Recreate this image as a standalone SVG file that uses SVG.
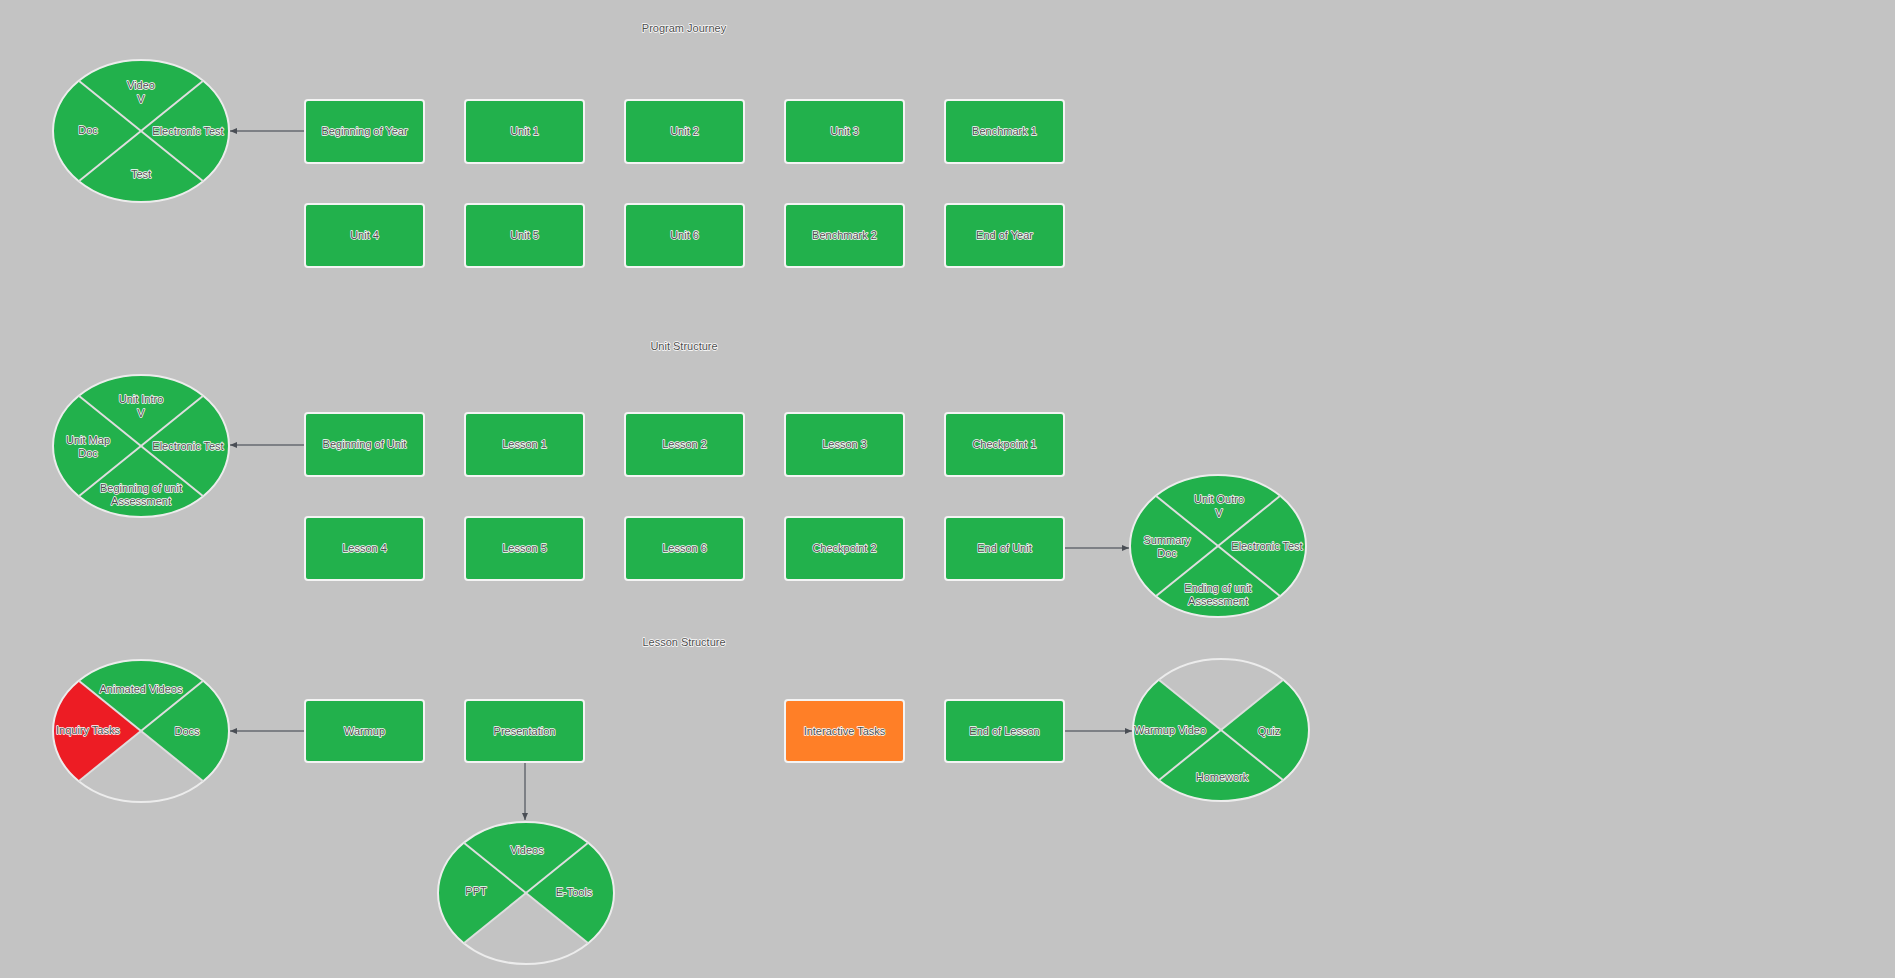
<svg xmlns="http://www.w3.org/2000/svg" width="1895" height="978" viewBox="0 0 1895 978">
<style>
.bg{fill:#c3c3c3}
.box{stroke:#f4f4f4;stroke-width:2}
.g{fill:#22b14c}
.r{fill:#ed1c24}
.o{fill:#ff7f27}
.ol{fill:none;stroke:#ececec;stroke-width:2}
.dv{stroke:#dedede;stroke-width:2}
text{font-family:"Liberation Sans",Arial,sans-serif;font-size:11px;fill:#4e4e4e;stroke:#ffffff;stroke-width:1.4;paint-order:stroke;stroke-linejoin:round;text-anchor:middle}
.cn{stroke:#666a70;stroke-width:1.5;fill:none;marker-end:url(#ah)}
</style>
<defs>
<marker id="ah" markerWidth="8" markerHeight="8" refX="7" refY="4" orient="auto" markerUnits="userSpaceOnUse">
<path d="M0,1 L7,4 L0,7 Z" fill="#4a4e55"/>
</marker>
<path id="qt" d="M0,0 L-62.2,-50.2 A88 71 0 0 1 62.2,-50.2 Z"/>
<path id="qr" d="M0,0 L62.2,-50.2 A88 71 0 0 1 62.2,50.2 Z"/>
<path id="qb" d="M0,0 L62.2,50.2 A88 71 0 0 1 -62.2,50.2 Z"/>
<path id="ql" d="M0,0 L-62.2,50.2 A88 71 0 0 1 -62.2,-50.2 Z"/>
<g id="frame">
<ellipse cx="0" cy="0" rx="88" ry="71" class="ol"/>
<line x1="-62.2" y1="-50.2" x2="62.2" y2="50.2" class="dv"/>
<line x1="-62.2" y1="50.2" x2="62.2" y2="-50.2" class="dv"/>
</g>
</defs>
<rect class="bg" x="0" y="0" width="1895" height="978"/>

<g id="titles">
<text x="684" y="32">Program Journey</text>
<text x="684" y="350">Unit Structure</text>
<text x="684" y="646">Lesson Structure</text>
</g>

<g id="connectors">
<line class="cn" x1="305" y1="131" x2="230" y2="131"/>
<line class="cn" x1="305" y1="445" x2="230" y2="445"/>
<line class="cn" x1="1064" y1="548" x2="1129" y2="548"/>
<line class="cn" x1="305" y1="731" x2="230" y2="731"/>
<line class="cn" x1="1064" y1="731" x2="1132" y2="731"/>
<line class="cn" x1="525" y1="762" x2="525" y2="820"/>
</g>

<!-- Program Journey boxes -->
<g id="n-beginning-year"><rect class="box g" x="305" y="100" width="119" height="63" rx="3"/><text x="364.5" y="135">Beginning of Year</text></g>
<g id="n-unit1"><rect class="box g" x="465" y="100" width="119" height="63" rx="3"/><text x="524.5" y="135">Unit 1</text></g>
<g id="n-unit2"><rect class="box g" x="625" y="100" width="119" height="63" rx="3"/><text x="684.5" y="135">Unit 2</text></g>
<g id="n-unit3"><rect class="box g" x="785" y="100" width="119" height="63" rx="3"/><text x="844.5" y="135">Unit 3</text></g>
<g id="n-bench1"><rect class="box g" x="945" y="100" width="119" height="63" rx="3"/><text x="1004.5" y="135">Benchmark 1</text></g>
<g id="n-unit4"><rect class="box g" x="305" y="204" width="119" height="63" rx="3"/><text x="364.5" y="239">Unit 4</text></g>
<g id="n-unit5"><rect class="box g" x="465" y="204" width="119" height="63" rx="3"/><text x="524.5" y="239">Unit 5</text></g>
<g id="n-unit6"><rect class="box g" x="625" y="204" width="119" height="63" rx="3"/><text x="684.5" y="239">Unit 6</text></g>
<g id="n-bench2"><rect class="box g" x="785" y="204" width="119" height="63" rx="3"/><text x="844.5" y="239">Benchmark 2</text></g>
<g id="n-end-year"><rect class="box g" x="945" y="204" width="119" height="63" rx="3"/><text x="1004.5" y="239">End of Year</text></g>

<!-- Unit Structure boxes -->
<g id="n-beginning-unit"><rect class="box g" x="305" y="413" width="119" height="63" rx="3"/><text x="364.5" y="448">Beginning of Unit</text></g>
<g id="n-lesson1"><rect class="box g" x="465" y="413" width="119" height="63" rx="3"/><text x="524.5" y="448">Lesson 1</text></g>
<g id="n-lesson2"><rect class="box g" x="625" y="413" width="119" height="63" rx="3"/><text x="684.5" y="448">Lesson 2</text></g>
<g id="n-lesson3"><rect class="box g" x="785" y="413" width="119" height="63" rx="3"/><text x="844.5" y="448">Lesson 3</text></g>
<g id="n-check1"><rect class="box g" x="945" y="413" width="119" height="63" rx="3"/><text x="1004.5" y="448">Checkpoint 1</text></g>
<g id="n-lesson4"><rect class="box g" x="305" y="517" width="119" height="63" rx="3"/><text x="364.5" y="552">Lesson 4</text></g>
<g id="n-lesson5"><rect class="box g" x="465" y="517" width="119" height="63" rx="3"/><text x="524.5" y="552">Lesson 5</text></g>
<g id="n-lesson6"><rect class="box g" x="625" y="517" width="119" height="63" rx="3"/><text x="684.5" y="552">Lesson 6</text></g>
<g id="n-check2"><rect class="box g" x="785" y="517" width="119" height="63" rx="3"/><text x="844.5" y="552">Checkpoint 2</text></g>
<g id="n-end-unit"><rect class="box g" x="945" y="517" width="119" height="63" rx="3"/><text x="1004.5" y="552">End of Unit</text></g>

<!-- Lesson Structure boxes -->
<g id="n-warmup"><rect class="box g" x="305" y="700" width="119" height="62" rx="3"/><text x="364.5" y="735">Warmup</text></g>
<g id="n-presentation"><rect class="box g" x="465" y="700" width="119" height="62" rx="3"/><text x="524.5" y="735">Presentation</text></g>
<g id="n-interactive"><rect class="box o" x="785" y="700" width="119" height="62" rx="3"/><text x="844.5" y="735">Interactive Tasks</text></g>
<g id="n-end-lesson"><rect class="box g" x="945" y="700" width="119" height="62" rx="3"/><text x="1004.5" y="735">End of Lesson</text></g>

<!-- Ellipses -->
<g id="e-year" transform="translate(141,131)">
<use href="#qt" class="g"/><use href="#qr" class="g"/><use href="#qb" class="g"/><use href="#ql" class="g"/>
<use href="#frame"/>
<text x="0" y="-42">Video</text><text x="0" y="-28">V</text>
<text x="-53" y="3">Doc</text>
<text x="47" y="4">Electronic Test</text>
<text x="0" y="47">Test</text>
</g>

<g id="e-unit-begin" transform="translate(141,446)">
<use href="#qt" class="g"/><use href="#qr" class="g"/><use href="#qb" class="g"/><use href="#ql" class="g"/>
<use href="#frame"/>
<text x="0" y="-43">Unit Intro</text><text x="0" y="-29">V</text>
<text x="-53" y="-2">Unit Map</text><text x="-53" y="11">Doc</text>
<text x="47" y="4">Electronic Test</text>
<text x="0" y="46">Beginning of unit</text><text x="0" y="59">Assessment</text>
</g>

<g id="e-unit-end" transform="translate(1218,546)">
<use href="#qt" class="g"/><use href="#qr" class="g"/><use href="#qb" class="g"/><use href="#ql" class="g"/>
<use href="#frame"/>
<text x="1" y="-43">Unit Outro</text><text x="1" y="-29">V</text>
<text x="-51" y="-2">Summary</text><text x="-51" y="11">Doc</text>
<text x="49" y="4">Electronic Test</text>
<text x="0" y="46">Ending of unit</text><text x="0" y="59">Assessment</text>
</g>

<g id="e-warmup" transform="translate(141,731)">
<use href="#qt" class="g"/><use href="#qr" class="g"/><use href="#ql" class="r"/>
<use href="#frame"/>
<text x="0" y="-38">Animated Videos</text>
<text x="-53" y="3">Inquiry Tasks</text>
<text x="46" y="4">Docs</text>
</g>

<g id="e-end-lesson" transform="translate(1221,730)">
<use href="#qr" class="g"/><use href="#qb" class="g"/><use href="#ql" class="g"/>
<use href="#frame"/>
<text x="-51" y="4">Warmup Video</text>
<text x="48" y="5">Quiz</text>
<text x="1" y="51">Homework</text>
</g>

<g id="e-presentation" transform="translate(526,893)">
<use href="#qt" class="g"/><use href="#qr" class="g"/><use href="#ql" class="g"/>
<use href="#frame"/>
<text x="1" y="-39">Videos</text>
<text x="-50" y="2">PPT</text>
<text x="48" y="3">E-Tools</text>
</g>
</svg>
